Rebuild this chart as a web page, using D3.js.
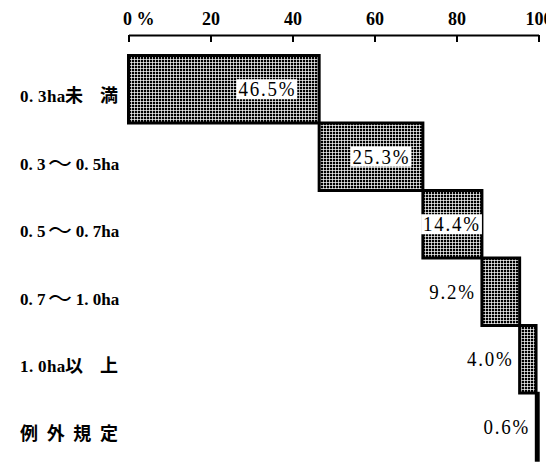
<!DOCTYPE html>
<html><head><meta charset="utf-8">
<script src="https://cdn.jsdelivr.net/npm/d3@7/dist/d3.min.js"></script>
<style>
html,body{margin:0;padding:0;background:#fff;}
svg{display:block;}
</style></head>
<body>
<script>
const categories = ["0.3ha未満", "0.3〜0.5ha", "0.5〜0.7ha", "0.7〜1.0ha", "1.0ha以上", "例外規定"];
const values = [46.5, 25.3, 14.4, 9.2, 4.0, 0.6];
const valueLabels = ["46.5%", "25.3%", "14.4%", "9.2%", "4.0%", "0.6%"];
const tickValues = [0, 20, 40, 60, 80, 100];
const tickLabels = ["0 %", "20", "40", "60", "80", "100"];

const W = 546, H = 462;
const svg = d3.select("body").append("svg").attr("width", W).attr("height", H);

const defs = svg.append("defs");
const pat = defs.append("pattern").attr("id", "dots").attr("patternUnits", "userSpaceOnUse")
  .attr("width", 3).attr("height", 3);
pat.append("rect").attr("width", 3).attr("height", 3).attr("fill", "#fff");
pat.append("rect").attr("width", 2.3).attr("height", 2.3).attr("fill", "#000");

const x = d3.scaleLinear().domain([0, 100]).range([128.5, 538.5]);
const y = d3.scaleBand().domain(categories).range([55.5, 460.5]).paddingInner(0).paddingOuter(0);

let acc = 0;
const rows = categories.map((c, i) => {
  const r = { cat: c, v: values[i], start: acc, end: acc + values[i], label: valueLabels[i] };
  acc += values[i];
  return r;
});

// axis
const axis = d3.axisTop(x).tickValues(tickValues)
  .tickFormat((d, i) => tickLabels[i]).tickSizeInner(-7).tickSizeOuter(0).tickPadding(10);
const ag = svg.append("g").attr("transform", "translate(0,35)").call(axis);
ag.select(".domain").attr("stroke", "#000").attr("stroke-width", 2);
ag.selectAll(".tick line").attr("stroke", "#000").attr("stroke-width", 2);
ag.selectAll(".tick text").attr("fill", "#000")
  .style("font-family", "'Liberation Serif', serif").style("font-weight", "bold").style("font-size", "18px");
ag.selectAll(".tick text").filter((d) => d === 0).attr("text-anchor", "start").attr("dx", -6);

// bars
const g = svg.append("g");
g.selectAll("rect.bar").data(rows).join("rect").attr("class", "bar")
  .attr("x", d => x(d.start)).attr("width", d => x(d.end) - x(d.start))
  .attr("y", d => y(d.cat)).attr("height", y.bandwidth())
  .attr("fill", "url(#dots)").attr("stroke", "#000")
  .attr("stroke-width", d => Math.min(3, x(d.end) - x(d.start)));

// value labels
const lab = svg.append("g");
rows.forEach(d => {
  const w = x(d.end) - x(d.start);
  const inside = w > 50;
  const cy = y(d.cat) + y.bandwidth() / 2;
  const t = lab.append("text").attr("y", cy + 7)
    .attr("text-anchor", "start")
    .style("font-family", "'Liberation Serif', serif").style("font-size", "21px")
    .style("letter-spacing", "2px").attr("fill", "#000").text(d.label);
  const nat = t.node().getComputedTextLength();
  const tw = nat * 0.9;
  t.attr("textLength", tw).attr("lengthAdjust", "spacingAndGlyphs");
  let xs;
  if (inside) {
    let pad = 0.12 * w;
    if (tw + pad > w - 2) pad = Math.max(1, (w - tw) / 2);
    xs = x(d.end) - pad - tw;
  } else {
    xs = x(d.start) - 6 - tw;
  }
  t.attr("x", xs);
  if (inside) {
    lab.insert("rect", "text").attr("x", xs - 2).attr("y", cy - 10)
      .attr("width", tw + 3).attr("height", 20).attr("fill", "#fff");
  }
});

// category labels: per-character layout, justified to a common width
const isCJK = ch => /[\u3000-\u9fff\uff00-\uffef]/.test(ch);
const latinStyle = { family: "'Liberation Serif', serif", size: 17, weight: "bold", k: 0.86 };
const cjkStyle = { family: "'Noto Sans CJK JP', sans-serif", size: 18, weight: "bold", k: 1 };
const waveStyle = { family: "'Noto Sans CJK JP', sans-serif", size: 24, weight: "400", k: 1 };
const styleOf = ch => ch === "〜" ? waveStyle : (isCJK(ch) ? cjkStyle : latinStyle);
const labelLeft = 20, labelWidth = 98;
const meas = svg.append("text").attr("x", -999).attr("y", -999);
function adv(ch) {
  const s = styleOf(ch);
  meas.style("font-family", s.family).style("font-size", s.size + "px").style("font-weight", s.weight).text(ch);
  return meas.node().getComputedTextLength() * s.k + (ch === "." ? 3.5 : 0);
}
function gapWeight(a, b) {
  if (a === "〜" || b === "〜") return 0.3;
  if (isCJK(a) && isCJK(b)) return 1;
  if (isCJK(a) !== isCJK(b)) return 0.05;
  return 0.1;
}
const cg = svg.append("g");
categories.forEach(c => {
  const chars = Array.from(c);
  const advs = chars.map(adv);
  const natural = d3.sum(advs);
  const ws = chars.slice(1).map((ch, i) => gapWeight(chars[i], ch));
  const extra = Math.max(0, labelWidth - natural);
  const unit = extra / (d3.sum(ws) || 1);
  const t = cg.append("text").attr("fill", "#000");
  let cx = labelLeft;
  const base = y(c) + y.bandwidth() / 2 + 13;
  chars.forEach((ch, i) => {
    const s = styleOf(ch);
    t.append("tspan").attr("x", cx).attr("y", base + (ch === "〜" ? 2 : 0))
      .style("font-family", s.family).style("font-size", s.size + "px").style("font-weight", s.weight)
      .text(ch);
    cx += advs[i] + (i < ws.length ? ws[i] * unit : 0);
  });
});
meas.remove();
</script>
</body></html>
